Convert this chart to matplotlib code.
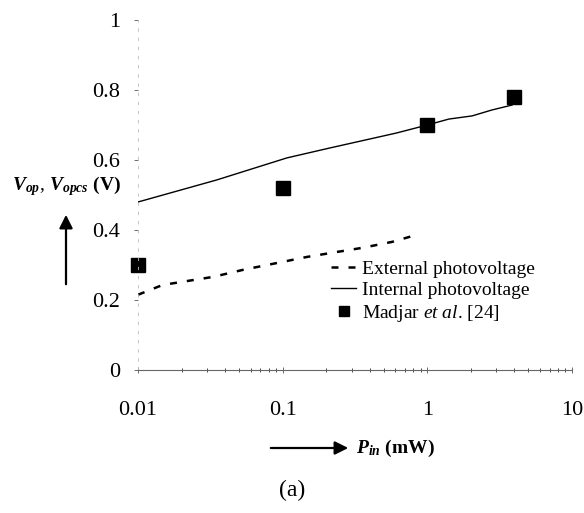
import matplotlib
matplotlib.use("Agg")
import matplotlib.pyplot as plt
import numpy as np

plt.rcParams['font.family'] = ['Liberation Serif', 'DejaVu Serif']
plt.rcParams['mathtext.fontset'] = 'custom'
plt.rcParams['mathtext.rm'] = 'Liberation Serif'
plt.rcParams['mathtext.it'] = 'Liberation Serif:italic'
plt.rcParams['mathtext.bf'] = 'Liberation Serif:bold'
plt.rcParams['mathtext.bfit'] = 'Liberation Serif:bold:italic'

# Data
int_x = [0.01, 0.035, 0.107, 0.21, 0.61, 1.0, 1.41, 2.04, 2.8, 3.85]
int_y = [0.48, 0.543, 0.606, 0.634, 0.677, 0.70, 0.717, 0.726, 0.743, 0.757]
ext_x = [0.01, 0.0148, 0.033, 0.053, 0.1, 0.147, 0.235, 0.355, 0.57, 0.84]
ext_y = [0.215, 0.243, 0.266, 0.286, 0.309, 0.323, 0.337, 0.349, 0.366, 0.386]
mad_x = [0.01, 0.1, 1, 4]
mad_y = [0.30, 0.52, 0.70, 0.78]
xticks = [0.01, 0.1, 1, 10]
xticklabels = ['0.01', '0.1', '1', '10']
yticks = [0, 0.2, 0.4, 0.6, 0.8, 1]
yticklabels = ['0', '0.2', '0.4', '0.6', '0.8', '1']

fig = plt.figure(figsize=(5.84, 5.13), dpi=100)
ax = fig.add_axes([138/584, 1-370/513, (572-138)/584, 350/513])

ax.plot(ext_x, ext_y, color='black', lw=1.8, ls=(0, (2.8, 4)), label='External photovoltage')
ax.plot(int_x, int_y, color='black', lw=1.0, ls='-', label='Internal photovoltage')
ax.plot(mad_x, mad_y, ls='none', marker='s', ms=10, color='black', clip_on=False,
        label='Madjar $\\mathit{et\\ al}$. [24]')

ax.set_xscale('log')
ax.set_xlim(0.01, 10)
ax.set_ylim(0, 1)
ax.set_xticks(xticks)
ax.set_xticklabels(xticklabels)
ax.set_yticks(yticks)
ax.set_yticklabels(yticklabels)
for s in ['top', 'right']:
    ax.spines[s].set_visible(False)
ax.spines['left'].set_color('#bbbbbb')
ax.spines['left'].set_linewidth(0.6)
ax.spines['left'].set_linestyle((0, (3, 8)))
ax.spines['bottom'].set_color('#666666')
ax.spines['bottom'].set_linewidth(0.8)
ax.tick_params(axis='both', labelsize=16, colors='#555555', labelcolor='black')
ax.tick_params(axis='y', length=3, width=0.6, pad=10)
ax.tick_params(axis='x', which='major', length=4, width=0.6, direction='inout', pad=20)
ax.tick_params(axis='x', which='minor', length=3, width=0.5, direction='inout')

ax.legend(loc='upper left', bbox_to_anchor=(331/584, 1-260/513), bbox_transform=fig.transFigure,
          frameon=False, fontsize=14, handlelength=1.3, handletextpad=0.3, markerscale=0.75,
          labelspacing=0.2, borderaxespad=0, borderpad=0)

# Axis labels with arrows
fig.text(66/584, 1-186/513, r'$\mathbfit{V}_{\mathbfit{op}}$, $\mathbfit{V}_{\mathbfit{opcs}}$ $\mathbf{(V)}$',
         ha='center', va='center', fontsize=14)
fig.add_artist(matplotlib.patches.FancyArrowPatch((66/584, 1-287/513), (66/584, 1-212/513),
               transform=fig.transFigure, arrowstyle='-|>,head_length=8,head_width=4',
               color='black', lw=1.6))
fig.add_artist(matplotlib.patches.FancyArrowPatch((268/584, 1-448/513), (351/584, 1-448/513),
               transform=fig.transFigure, arrowstyle='-|>,head_length=8,head_width=4',
               color='black', lw=1.6))
fig.text(356/584, 1-448/513, r'$\mathbfit{P}_{\mathbfit{in}}$ $\mathbf{(mW)}$',
         ha='left', va='center', fontsize=14)
fig.text(292/584, 1-490/513, '(a)', ha='center', va='center', fontsize=17)

fig.savefig('out.png', dpi=100)
